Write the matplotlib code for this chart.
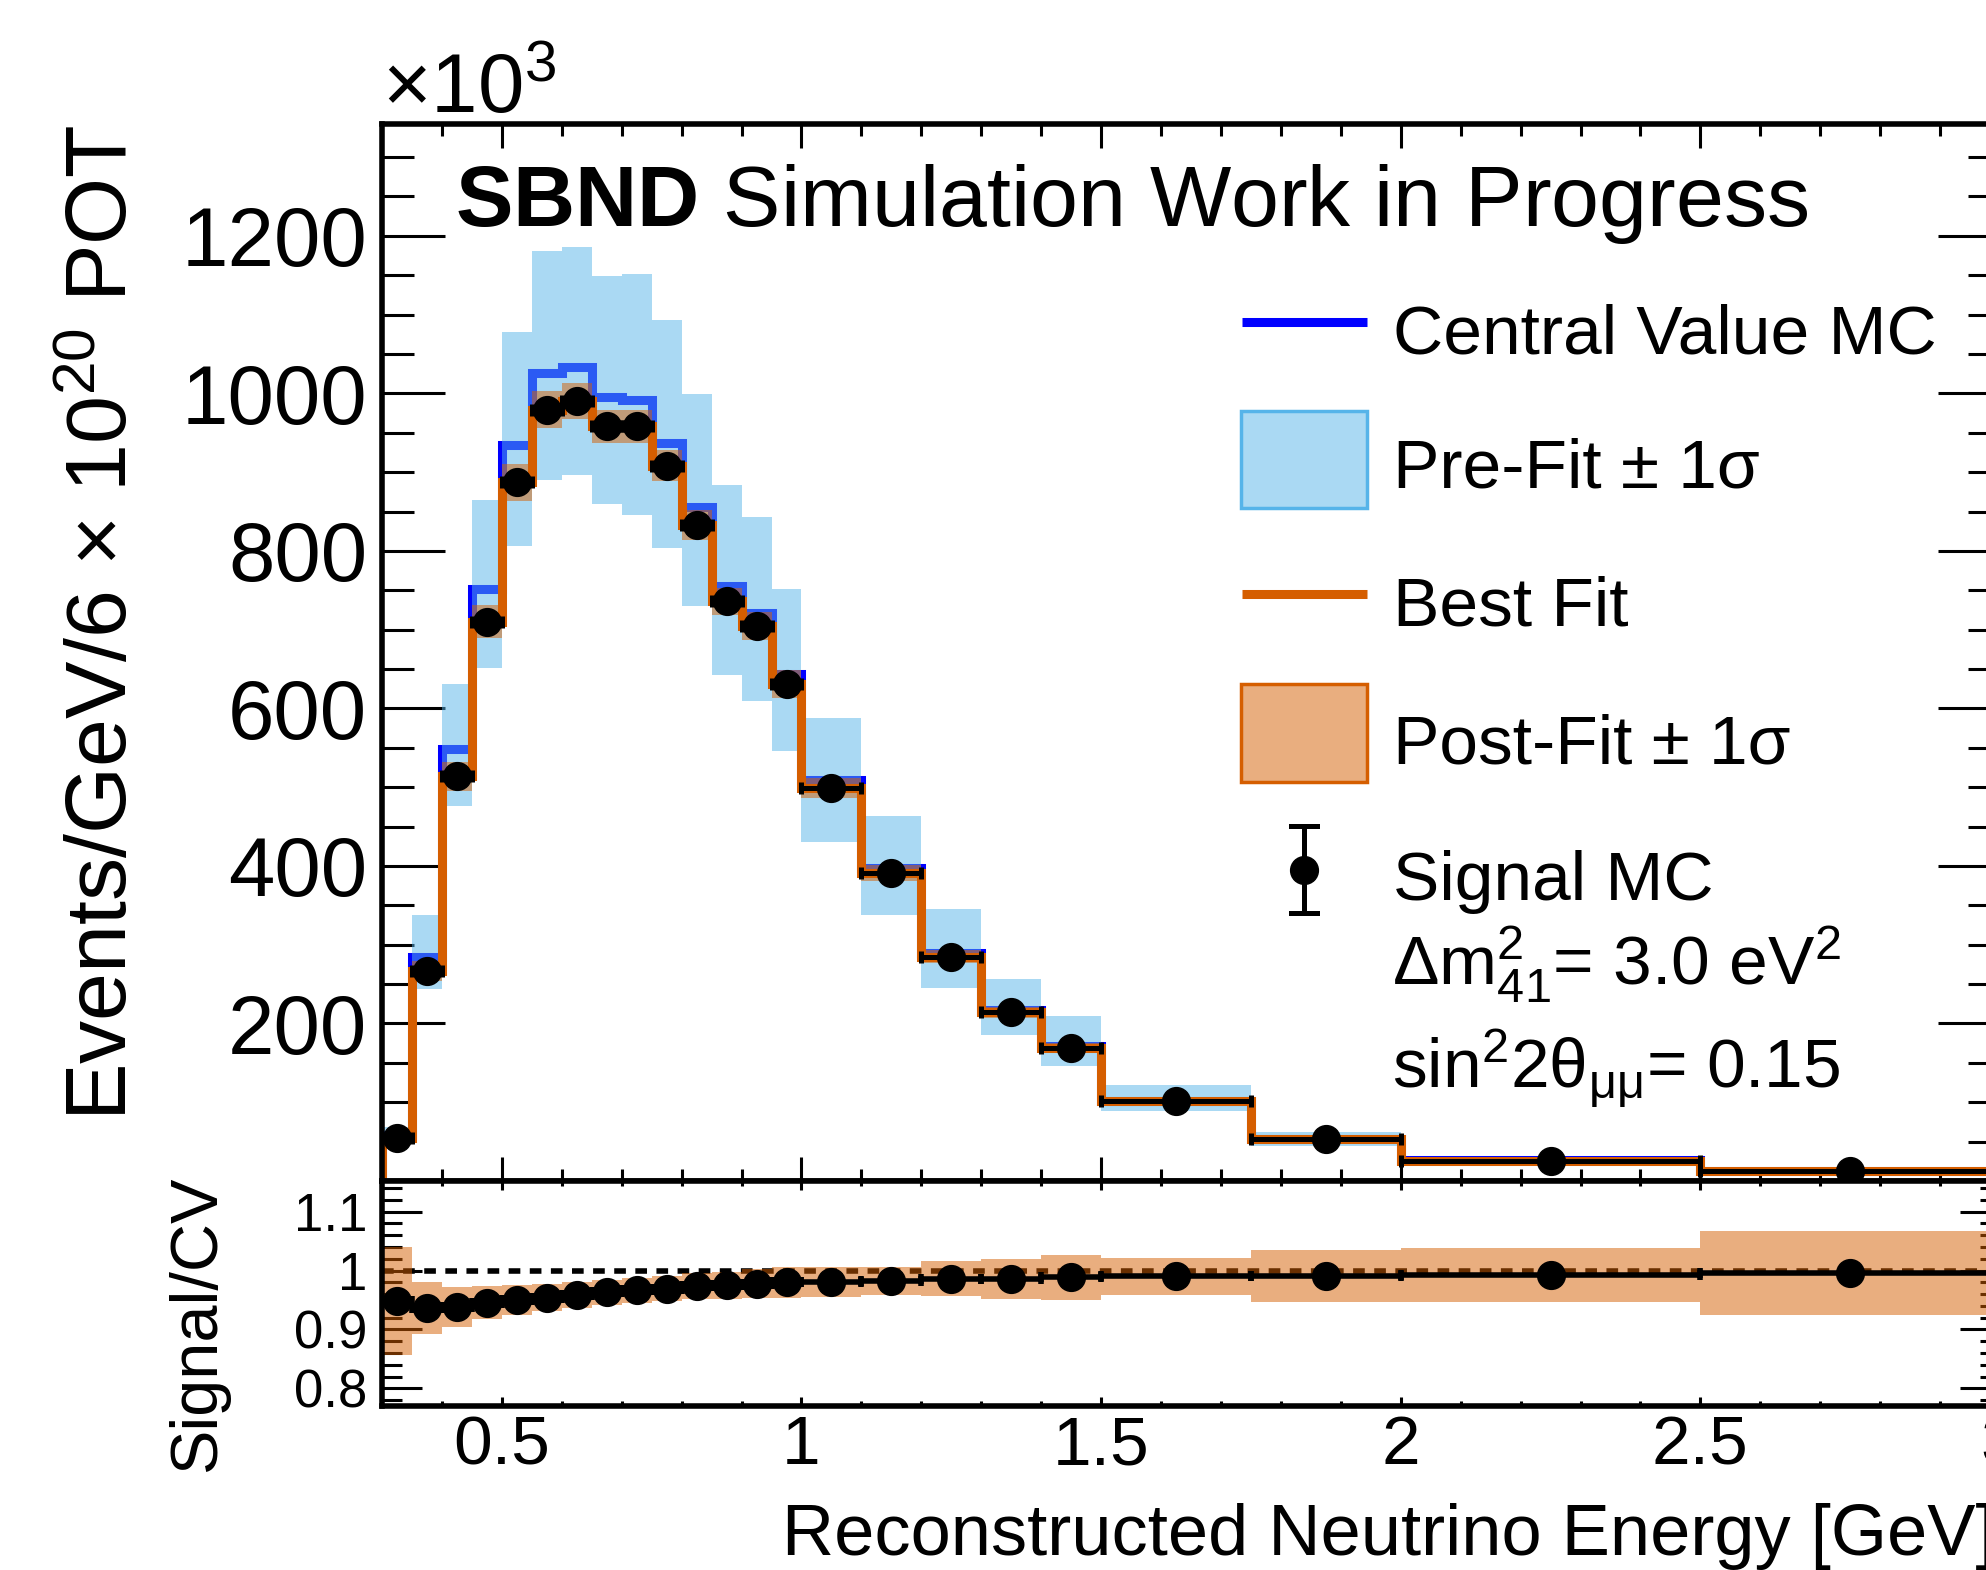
import matplotlib
matplotlib.use("Agg")
import matplotlib.pyplot as plt
from matplotlib.lines import Line2D
from matplotlib.patches import Rectangle
from matplotlib.colors import to_rgba
from matplotlib.ticker import MultipleLocator, FixedLocator, FuncFormatter
import numpy as np

plt.rcParams["font.family"] = ["Liberation Sans", "DejaVu Sans"]
plt.rcParams["mathtext.fontset"] = "custom"
plt.rcParams["mathtext.rm"] = "Liberation Sans"
plt.rcParams["mathtext.it"] = "Liberation Sans:italic"
plt.rcParams["mathtext.bf"] = "Liberation Sans:bold"

# ── data (events / GeV, x10^3) ────────────────────────────────────────────────
bin_edges = [0.30, 0.35, 0.40, 0.45, 0.50, 0.55, 0.60, 0.65, 0.70, 0.75, 0.80,
             0.85, 0.90, 0.95, 1.00, 1.10, 1.20, 1.30, 1.40, 1.50, 1.75, 2.00,
             2.50, 3.00]

cv_mc = [58, 285, 548, 751, 934, 1026, 1033, 995, 991, 937, 856, 755, 721,
         644, 509, 398, 289, 217, 171, 102, 53.5, 26.2, 13.05]

prefit_hi = [68, 338, 631, 864, 1078, 1181, 1186, 1149, 1151, 1093, 999, 884,
             843, 752, 588, 464, 345, 256, 209, 122, 62, 30, 16]
prefit_lo = [48, 244, 476, 651, 806, 890, 896, 859, 845, 804, 730, 642,
             610, 546, 431, 338, 245, 185, 146, 89, 45, 22, 10]

best_fit = [55, 267, 514, 710, 887, 979, 990, 958, 958, 908, 833, 736, 705,
            631, 499, 391, 285, 214, 169, 101, 53, 26, 13]
postfit_err = [5.3, 12.5, 18.6, 21, 23.3, 23.6, 22.7, 20.9, 20.8, 19.7, 18.8,
               17.3, 18, 17.4, 12.7, 9.6, 8.7, 7.4, 6.5, 3.2, 2.4, 1.2, 0.93]

signal_mc = [55, 267, 514, 710, 887, 979, 990, 958, 958, 908, 833, 736, 705,
             631, 499, 391, 285, 214, 169, 101, 53, 26, 13]

y_ticks = [200, 400, 600, 800, 1000, 1200]
ratio_ticks = [0.8, 0.9, 1.0, 1.1]

# ── styles ────────────────────────────────────────────────────────────────────
BLUE = "#0000ff"
SKY = "#56b4e9"
VERM = "#d55e00"
LW = 6.5
MS = 20

W_PX, H_PX = 1986, 1570


def fx(x):
    return x / W_PX


def fy(y):
    return 1 - y / H_PX


edges = np.array(bin_edges)
centers = 0.5 * (edges[1:] + edges[:-1])
half_w = 0.5 * np.diff(edges)
cv = np.array(cv_mc)
bf = np.array(best_fit)
perr = np.array(postfit_err)
sig = np.array(signal_mc)

fig = plt.figure(figsize=(W_PX / 100, H_PX / 100), dpi=100)
ax = fig.add_axes([fx(382), fy(1181), fx(2000) - fx(382), fy(124) - fy(1181)])
axr = fig.add_axes([fx(382), fy(1406), fx(2000) - fx(382), fy(1181) - fy(1406)])

# ── top pad ───────────────────────────────────────────────────────────────────
ax.stairs(cv, edges, color=BLUE, lw=LW, zorder=1.6)
ax.stairs(prefit_hi, edges, baseline=prefit_lo, fill=True, color=SKY,
          alpha=0.5, lw=0, zorder=1.7)
ax.stairs(bf + perr, edges, baseline=bf - perr, fill=True, color=VERM,
          alpha=0.5, lw=0, zorder=1.8)
ax.stairs(bf, edges, color=VERM, lw=LW, zorder=1.9)
ax.errorbar(centers, sig, xerr=half_w, fmt="o", color="k", ms=MS,
            elinewidth=3.6, capsize=4.3, capthick=3.6, zorder=3)

ax.set_xlim(0.3, 3.0)
ax.set_ylim(0, 1342)
ax.xaxis.set_major_locator(MultipleLocator(0.5))
ax.xaxis.set_minor_locator(MultipleLocator(0.1))
ax.yaxis.set_major_locator(FixedLocator(y_ticks))
ax.yaxis.set_minor_locator(MultipleLocator(50))
ax.tick_params(axis="both", which="both", direction="in", top=True,
               right=True, width=2.2, labelbottom=False)
ax.tick_params(axis="y", which="major", length=45, labelsize=60, pad=10.8)
ax.tick_params(axis="y", which="minor", length=23)
ax.tick_params(axis="x", which="major", length=17)
ax.tick_params(axis="x", which="minor", length=8.6)

# ── ratio pad ─────────────────────────────────────────────────────────────────
axr.axhline(1.0, color="k", lw=4, ls=(0, (2.1, 1.7)), zorder=1.8)
axr.stairs((bf + perr) / cv, edges, baseline=(bf - perr) / cv, fill=True,
           color=VERM, alpha=0.5, lw=0, zorder=2)
axr.errorbar(centers, sig / cv, xerr=half_w, fmt="o", color="k", ms=MS,
             elinewidth=4, capsize=3.6, capthick=4, zorder=3)

axr.set_xlim(0.3, 3.0)
axr.set_ylim(0.77, 1.152)
axr.xaxis.set_major_locator(MultipleLocator(0.5))
axr.xaxis.set_minor_locator(MultipleLocator(0.1))
axr.yaxis.set_major_locator(FixedLocator(ratio_ticks))
axr.yaxis.set_minor_locator(MultipleLocator(0.02))
fmt = FuncFormatter(lambda v, p: f"{v:g}")
axr.xaxis.set_major_formatter(fmt)
axr.yaxis.set_major_formatter(fmt)
axr.tick_params(axis="both", which="both", direction="in", top=True,
                right=True, width=2.2)
axr.tick_params(axis="y", which="major", length=29, labelsize=38, pad=10.8)
axr.tick_params(axis="y", which="minor", length=14.4)
axr.tick_params(axis="x", which="major", length=6.5, labelsize=50, pad=6)
axr.tick_params(axis="x", which="minor", length=3.6)

for a in (ax, axr):
    for s in a.spines.values():
        s.set_linewidth(4)

# ── titles and labels ─────────────────────────────────────────────────────────
fig.text(fx(382), fy(113), "×10$^{3}$", size=60, va="baseline", ha="left")
fig.text(fx(455), fy(226), r"$\mathbf{SBND}$ Simulation Work in Progress",
         size=62, va="baseline", ha="left")
fig.text(fx(127), fy(125), "Events/GeV/6 × 10$^{20}$ POT", size=62,
         rotation=90, rotation_mode="anchor", ha="right", va="baseline")
fig.text(fx(215), fy(1176), "Signal/CV", size=48,
         rotation=90, rotation_mode="anchor", ha="right", va="baseline")
fig.text(fx(782), fy(1555), "Reconstructed Neutrino Energy [GeV]", size=52,
         ha="left", va="baseline")

# ── legend (drawn by hand, ROOT style) ────────────────────────────────────────
tx = fx(1393)
leg_font = 50
fig.text(tx, fy(354), "Central Value MC", size=leg_font, va="baseline")
fig.text(tx, fy(488), "Pre-Fit ± 1σ", size=leg_font, va="baseline")
fig.text(tx, fy(626), "Best Fit", size=leg_font, va="baseline")
fig.text(tx, fy(763), "Post-Fit ± 1σ", size=leg_font, va="baseline")
fig.text(tx, fy(900), "Signal MC", size=leg_font, va="baseline")
fig.text(fx(1392), fy(985), "Δm$^{2}_{41}$= 3.0 eV$^{2}$", size=leg_font,
         va="baseline")
fig.text(fx(1392), fy(1088), r"sin$^{2}$2θ$_{\mathrm{μμ}}$= 0.15",
         size=leg_font, va="baseline")

fig.add_artist(Line2D([fx(1242), fx(1367)], [fy(322)] * 2, color=BLUE, lw=LW,
                      solid_capstyle="butt"))
fig.add_artist(Line2D([fx(1242), fx(1367)], [fy(594)] * 2, color=VERM, lw=LW,
                      solid_capstyle="butt"))
fig.add_artist(Rectangle((fx(1241), fy(508)), fx(1367) - fx(1241),
                         fy(411) - fy(508), facecolor=to_rgba(SKY, 0.5),
                         edgecolor=SKY, lw=2.5, transform=fig.transFigure))
fig.add_artist(Rectangle((fx(1241), fy(782)), fx(1367) - fx(1241),
                         fy(684) - fy(782), facecolor=to_rgba(VERM, 0.5),
                         edgecolor=VERM, lw=2.5, transform=fig.transFigure))
fig.add_artist(Line2D([fx(1304)] * 2, [fy(826), fy(913)], color="k", lw=3.6))
for yc in (826, 913):
    fig.add_artist(Line2D([fx(1291), fx(1317)], [fy(yc)] * 2, color="k",
                          lw=3.6))
fig.add_artist(Line2D([fx(1304)], [fy(870)], marker="o", ms=MS, color="k"))

fig.savefig("out.png", dpi=100)
